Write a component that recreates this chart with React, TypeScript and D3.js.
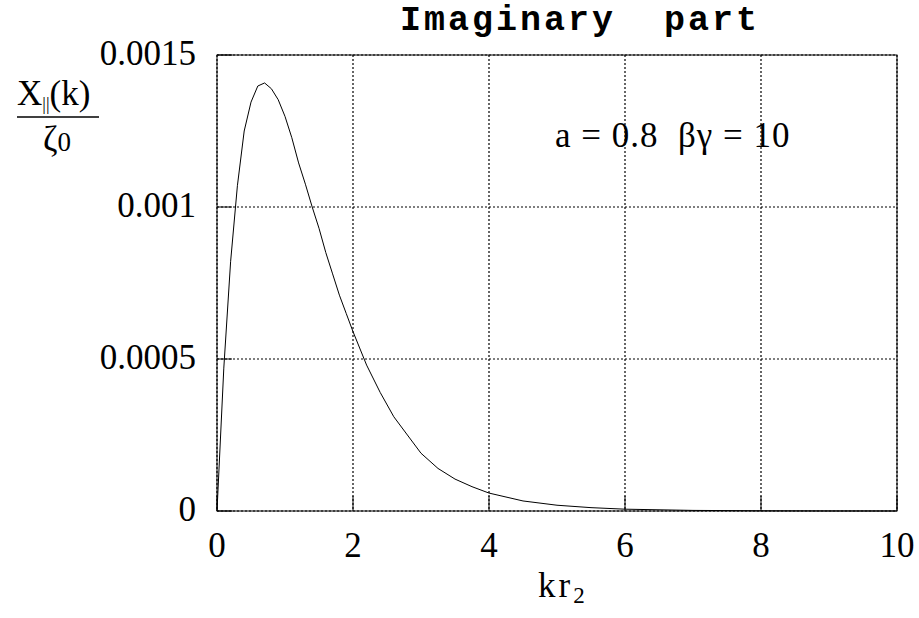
import React from 'react';
import { scaleLinear, line } from 'd3';

// kr2 sample points and the imaginary part values
const krValues = [0, 0.1, 0.2, 0.3, 0.4, 0.5, 0.6, 0.7, 0.8, 0.9, 1.0, 1.1, 1.2, 1.3, 1.4, 1.5, 1.6, 1.7, 1.8, 1.9, 2.0,
  2.2, 2.4, 2.6, 2.8, 3.0, 3.25, 3.5, 3.75, 4.0, 4.5, 5.0, 5.5, 6.0, 7.0, 8.0, 9.0, 10.0];
const imagValues = [0, 0.00047, 0.00082, 0.00107, 0.00125, 0.001345, 0.001398, 0.001408, 0.001389, 0.001353, 0.001298,
  0.001228, 0.001145, 0.001075, 0.001, 0.00093, 0.00085, 0.00078, 0.00071, 0.00065, 0.00059,
  0.00048, 0.00039, 0.00031, 0.00025, 0.00019, 0.00014, 0.000105, 0.00008, 0.000059, 0.000033, 0.000019, 0.000011,
  0.000006, 0.000002, 0.0000007, 0.0000002, 0.0000001];

const xTicks = [0, 2, 4, 6, 8, 10];
const yTicks = [0, 0.0005, 0.001, 0.0015];
const yTickLabels = ['0', '0.0005', '0.001', '0.0015'];

const W = 919;
const H = 618;
const left = 217, right = 897, top = 55, bottom = 511;

const App = () => {
  const x = scaleLinear().domain([0, 10]).range([left, right]);
  const y = scaleLinear().domain([0, 0.0015]).range([bottom, top]);

  const pts: [number, number][] = krValues.map((k, i) => [k, imagValues[i]]);
  const path = line<[number, number]>().x(d => x(d[0])).y(d => y(d[1]))(pts);

  const serif = '"Liberation Serif", "Times New Roman", serif';

  return (
    <svg width={W} height={H} style={{ position: 'absolute', left: 0, top: 0, background: '#fff' }}>
      <rect x={0} y={0} width={W} height={H} fill="#fff" />
      {/* grid */}
      {xTicks.map(t => (
        <line key={'gx' + t} x1={x(t)} x2={x(t)} y1={top} y2={bottom}
          stroke="#000" strokeWidth={1.2} strokeDasharray="2,2" />
      ))}
      {yTicks.map(t => (
        <line key={'gy' + t} x1={left} x2={right} y1={y(t)} y2={y(t)}
          stroke="#000" strokeWidth={1.2} strokeDasharray="2,2" />
      ))}
      {/* inward ticks */}
      {xTicks.map(t => (
        <line key={'tx' + t} x1={x(t)} x2={x(t)} y1={bottom} y2={bottom - 15} stroke="#000" strokeWidth={1} />
      ))}
      {yTicks.map(t => (
        <line key={'ty' + t} x1={left} x2={left + 15} y1={y(t)} y2={y(t)} stroke="#000" strokeWidth={1} />
      ))}
      <rect x={left} y={top} width={right - left} height={bottom - top} fill="none" stroke="#000" strokeWidth={1} />

      <path d={path || ''} fill="none" stroke="#000" strokeWidth={1} />

      {/* tick labels */}
      {xTicks.map(t => (
        <text key={'lx' + t} x={x(t)} y={bottom + 46} textAnchor="middle" fontFamily={serif} fontSize={35}>{t}</text>
      ))}
      {yTicks.map((t, i) => (
        <text key={'ly' + t} x={196} y={y(t) + 10} textAnchor="end" fontFamily={serif} fontSize={35}>{yTickLabels[i]}</text>
      ))}

      {/* title */}
      <text x={580} y={30} textAnchor="middle" fontFamily='"Liberation Mono", "Courier New", monospace'
        fontWeight="bold" fontSize={35} letterSpacing={3}
        style={{ whiteSpace: 'pre' }}>{'Imaginary  part'}</text>

      {/* annotation */}
      <text x={555} y={147} fontFamily={serif} fontSize={35} letterSpacing={1}
        style={{ whiteSpace: 'pre' }}>{'a = 0.8  βγ = 10'}</text>

      {/* y label */}
      <text x={17} y={105} fontFamily={serif} fontSize={35} fill="#000">
        X<tspan fontSize={18} dy={5}>||</tspan><tspan dy={-5}>(k)</tspan>
      </text>
      <line x1={17} x2={99} y1={117} y2={117} stroke="#000" strokeWidth={1.5} />
      <text x={43} y={151} fontFamily={serif} fontSize={35}>
        ζ<tspan fontSize={27}>0</tspan>
      </text>

      {/* x label */}
      <text x={538} y={597} fontFamily={serif} fontSize={35} letterSpacing={3}>
        kr<tspan fontSize={23} dy={6}>2</tspan>
      </text>
    </svg>
  );
};

export default App;
